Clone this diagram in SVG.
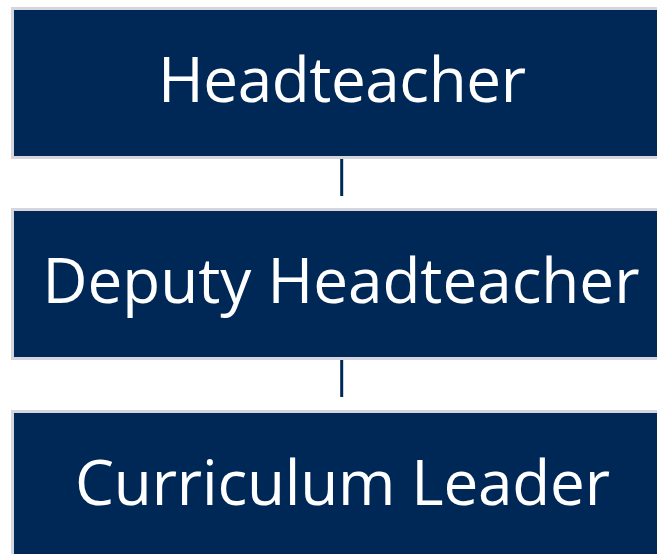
<svg xmlns="http://www.w3.org/2000/svg" width="657" height="554" viewBox="0 0 657 554">
<style>
.box{fill:#002856;stroke:#d5d5dd;stroke-width:3}
.lbl{fill:#ffffff;font-family:"Open Sans","Liberation Sans",sans-serif;font-size:62px;text-anchor:middle}
.conn{stroke:#002856;stroke-width:3;fill:none}
</style>
<rect width="657" height="554" fill="#ffffff"/>
<g id="connectors">
<line class="conn" x1="341.7" y1="158" x2="341.7" y2="196"/>
<line class="conn" x1="341.7" y1="360" x2="341.7" y2="397"/>
</g>
<g id="headteacher">
<rect class="box" x="12.5" y="8.5" width="660" height="149"/>
<text class="lbl" x="342" y="102" textLength="368">Headteacher</text>
</g>
<g id="deputy">
<rect class="box" x="12.5" y="209.5" width="660" height="149"/>
<text class="lbl" x="341" y="303" textLength="597">Deputy Headteacher</text>
</g>
<g id="curriculum">
<rect class="box" x="12.5" y="411.5" width="660" height="149"/>
<text class="lbl" x="342.5" y="505" textLength="535">Curriculum Leader</text>
</g>
</svg>
